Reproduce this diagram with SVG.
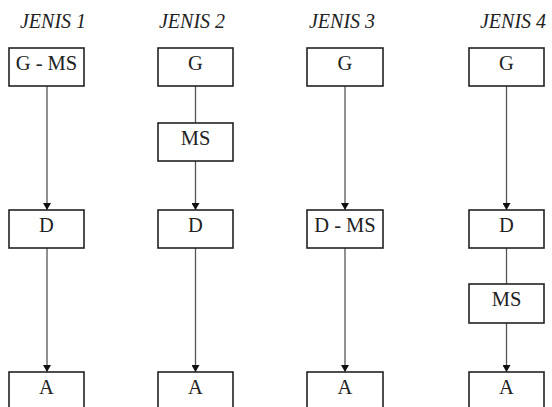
<svg xmlns="http://www.w3.org/2000/svg" width="552" height="407" viewBox="0 0 552 407">
<style>
.title{font-family:"Liberation Serif","Times New Roman",serif;font-style:italic;font-size:20px;fill:#222;text-anchor:middle}
.lbl{font-family:"Liberation Serif","Times New Roman",serif;font-size:20.5px;fill:#222;text-anchor:middle}
.box{fill:#fff;stroke:#222;stroke-width:1.6}
.ln{stroke:#555;stroke-width:1.3;fill:none}
</style>
<defs>
<marker id="ah" markerWidth="8" markerHeight="8" refX="7" refY="4" orient="auto" markerUnits="userSpaceOnUse">
<path d="M0,0 L7,4 L0,8 Z" fill="#111"/>
</marker>
</defs>
<rect width="552" height="407" fill="#fff"/>
<g id="titles">
<text class="title" x="53" y="28">JENIS 1</text>
<text class="title" x="192" y="28">JENIS 2</text>
<text class="title" x="342" y="28">JENIS 3</text>
<text class="title" x="513" y="28">JENIS 4</text>
</g>
<g id="connectors">
<line class="ln" x1="47" y1="86" x2="47" y2="210" marker-end="url(#ah)"/>
<line class="ln" x1="47" y1="248" x2="47" y2="372" marker-end="url(#ah)"/>
<line class="ln" x1="195.5" y1="86" x2="195.5" y2="123"/>
<line class="ln" x1="195.5" y1="161" x2="195.5" y2="210" marker-end="url(#ah)"/>
<line class="ln" x1="195.5" y1="248" x2="195.5" y2="372" marker-end="url(#ah)"/>
<line class="ln" x1="345" y1="86" x2="345" y2="210" marker-end="url(#ah)"/>
<line class="ln" x1="345" y1="248" x2="345" y2="372" marker-end="url(#ah)"/>
<line class="ln" x1="506.5" y1="86" x2="506.5" y2="210" marker-end="url(#ah)"/>
<line class="ln" x1="506.5" y1="248" x2="506.5" y2="284"/>
<line class="ln" x1="506.5" y1="323" x2="506.5" y2="372" marker-end="url(#ah)"/>
</g>
<g id="j1-gms"><rect class="box" x="9" y="48" width="75" height="38"/><text class="lbl" x="46.5" y="69.5">G - MS</text></g>
<g id="j1-d"><rect class="box" x="9" y="210" width="75" height="38"/><text class="lbl" x="46.5" y="231.5">D</text></g>
<g id="j1-a"><rect class="box" x="9" y="372" width="75" height="40"/><text class="lbl" x="46.5" y="393.5">A</text></g>
<g id="j2-g"><rect class="box" x="158" y="48" width="75" height="38"/><text class="lbl" x="195.5" y="69.5">G</text></g>
<g id="j2-ms"><rect class="box" x="158" y="123" width="75" height="38"/><text class="lbl" x="195.5" y="144.5">MS</text></g>
<g id="j2-d"><rect class="box" x="158" y="210" width="75" height="38"/><text class="lbl" x="195.5" y="231.5">D</text></g>
<g id="j2-a"><rect class="box" x="158" y="372" width="75" height="40"/><text class="lbl" x="195.5" y="393.5">A</text></g>
<g id="j3-g"><rect class="box" x="307" y="48" width="76" height="38"/><text class="lbl" x="345" y="69.5">G</text></g>
<g id="j3-dms"><rect class="box" x="307" y="210" width="76" height="38"/><text class="lbl" x="345" y="231.5">D - MS</text></g>
<g id="j3-a"><rect class="box" x="307" y="372" width="76" height="40"/><text class="lbl" x="345" y="393.5">A</text></g>
<g id="j4-g"><rect class="box" x="469" y="48" width="75" height="38"/><text class="lbl" x="506.5" y="69.5">G</text></g>
<g id="j4-d"><rect class="box" x="469" y="210" width="75" height="38"/><text class="lbl" x="506.5" y="231.5">D</text></g>
<g id="j4-ms"><rect class="box" x="469" y="284" width="75" height="39"/><text class="lbl" x="506.5" y="305.5">MS</text></g>
<g id="j4-a"><rect class="box" x="469" y="372" width="75" height="40"/><text class="lbl" x="506.5" y="393.5">A</text></g>
</svg>
